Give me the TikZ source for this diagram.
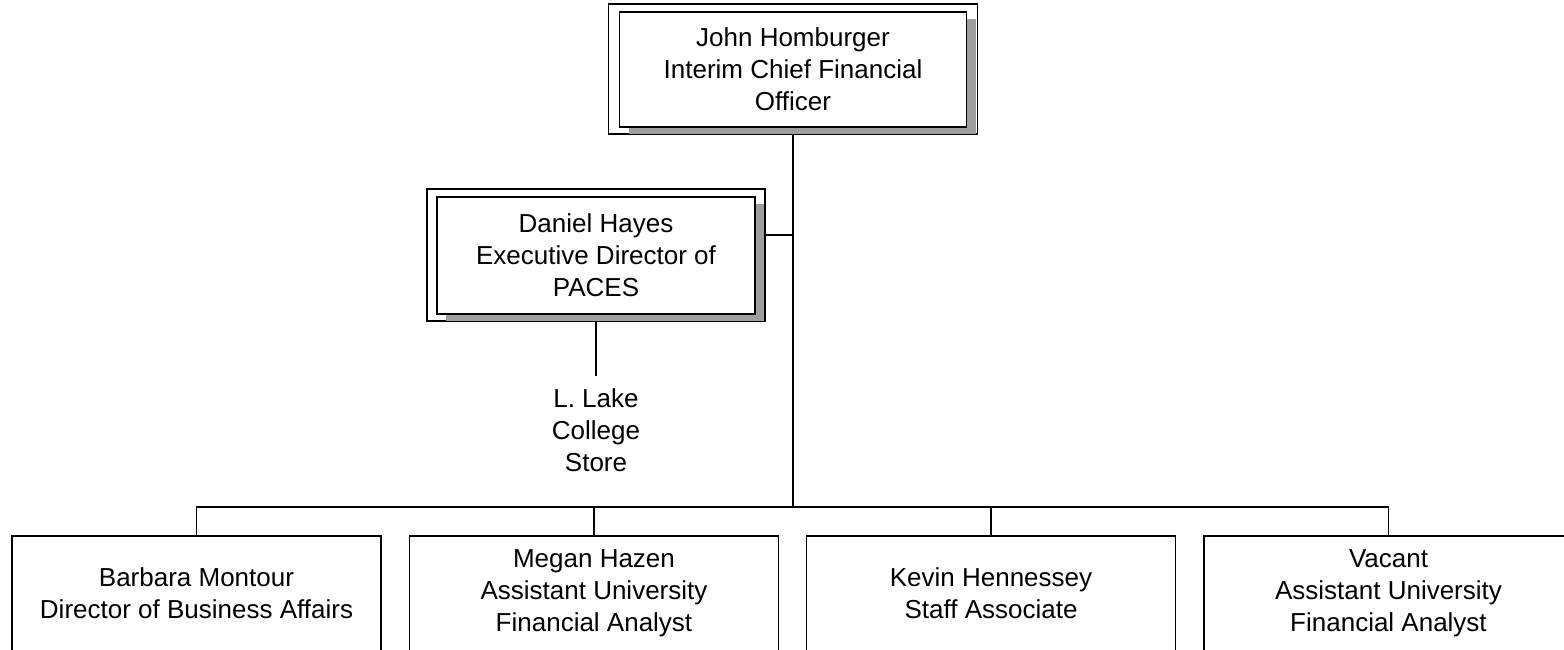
\documentclass[tikz,border=0pt]{standalone}
\usepackage{fontspec}
\setmainfont{Liberation Sans}
\usetikzlibrary{shadows}

\begin{document}
\begin{tikzpicture}[x=1pt, y=-1pt, line width=1.6pt,
    every node/.style={font=\fontsize{26}{32}\selectfont, align=center},
    frame/.style={draw, inner sep=0pt},
    headbox/.style={draw, fill=white, drop shadow={shadow xshift=9pt, shadow yshift=-7pt, fill=black!38, opacity=1}},
    staffbox/.style={draw, minimum width=369pt, minimum height=130pt, anchor=north}]
      \clip (0, 0) rectangle (1564, 649);

      \node[frame, minimum width=369pt, minimum height=130pt] (cfoframe) at (793, 69) {};
      \node[headbox, minimum width=347pt, minimum height=115pt] (cfo) at (793, 69.5) {John Homburger\\Interim Chief Financial\\Officer};

      \node[frame, minimum width=338pt, minimum height=132pt] (pacesframe) at (596, 255) {};
      \node[headbox, minimum width=318pt, minimum height=117pt] (paces) at (596, 255.5) {Daniel Hayes\\Executive Director of\\PACES};

      \node[inner sep=12pt] (store) at (596, 430.5) {L. Lake\\College\\Store};

      \node[staffbox, label={[yshift=8pt]center:{Barbara Montour\\Director of Business Affairs}}] (bm) at (196.5, 535) {};
      \node[staffbox, label={[yshift=8pt]center:{Megan Hazen\\Assistant University\\Financial Analyst}}] (mh) at (594, 535) {};
      \node[staffbox, label={[yshift=8pt]center:{Kevin Hennessey\\Staff Associate}}] (kh) at (991, 535) {};
      \node[staffbox, label={[yshift=8pt]center:{Vacant\\Assistant University\\Financial Analyst}}] (vc) at (1388.5, 535) {};

      \coordinate (bus) at (793, 507);
      \coordinate (tap) at (793, 235);
      \draw (cfoframe.south) -- (bus);
      \draw (tap) -- (tap -| pacesframe.east);
      \draw (pacesframe.south) -- (store.north);
      \foreach \n in {bm, mh, kh, vc}
        \draw (\n.north) |- (bus);
    \end{tikzpicture}
\end{document}
